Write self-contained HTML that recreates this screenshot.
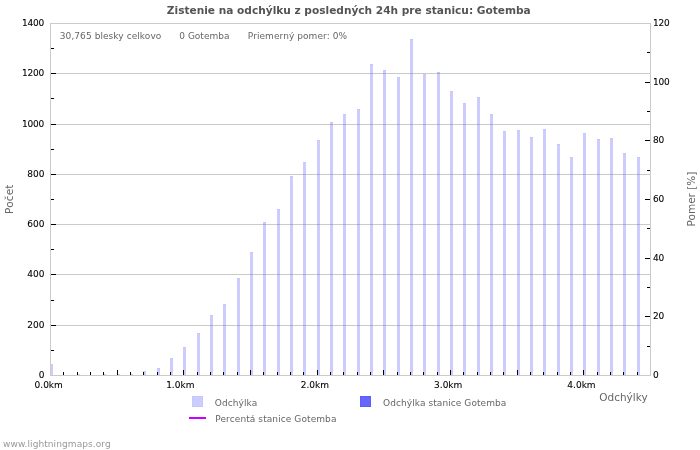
<!DOCTYPE html>
<html lang="sk"><head><meta charset="utf-8"><title>Zistenie na odchýlku – Gotemba</title>
<style>
html,body{margin:0;padding:0;background:#fff;}
body{width:700px;height:450px;overflow:hidden;position:relative;}
svg{position:absolute;left:0;top:0;display:block;will-change:transform;}
text{font-family:"DejaVu Sans","Liberation Sans",sans-serif;font-size:9px;fill:#000;white-space:pre;}
.t{font-weight:bold;font-size:10.6px;fill:#545454;}
.k{stroke:#000;stroke-width:0.08px;}
.g{fill:#666;}
.ax{font-size:10.5px;fill:#666;}
.f{fill:#999;}
</style></head><body>
<svg width="700" height="450" viewBox="0 0 700 450">
<rect width="700" height="450" fill="#fff"/>
<g fill="#cacaca" shape-rendering="crispEdges">
<rect x="51" y="325" width="599" height="1"/>
<rect x="51" y="274" width="599" height="1"/>
<rect x="51" y="224" width="599" height="1"/>
<rect x="51" y="174" width="599" height="1"/>
<rect x="51" y="124" width="599" height="1"/>
<rect x="51" y="73" width="599" height="1"/>
</g>
<g fill="#6666ff" fill-opacity="0.335" shape-rendering="crispEdges">
<rect x="51" y="364" width="2" height="11"/>
<rect x="77" y="374" width="3" height="1"/>
<rect x="103" y="374" width="3" height="1"/>
<rect x="117" y="374" width="3" height="1"/>
<rect x="130" y="374" width="3" height="1"/>
<rect x="143" y="371" width="3" height="4"/>
<rect x="157" y="368" width="3" height="7"/>
<rect x="170" y="358" width="3" height="17"/>
<rect x="183" y="347" width="3" height="28"/>
<rect x="197" y="333" width="3" height="42"/>
<rect x="210" y="315" width="3" height="60"/>
<rect x="223" y="304" width="3" height="71"/>
<rect x="237" y="278" width="3" height="97"/>
<rect x="250" y="252" width="3" height="123"/>
<rect x="263" y="222" width="3" height="153"/>
<rect x="277" y="209" width="3" height="166"/>
<rect x="290" y="176" width="3" height="199"/>
<rect x="303" y="162" width="3" height="213"/>
<rect x="317" y="140" width="3" height="235"/>
<rect x="330" y="122" width="3" height="253"/>
<rect x="343" y="114" width="3" height="261"/>
<rect x="357" y="109" width="3" height="266"/>
<rect x="370" y="64" width="3" height="311"/>
<rect x="383" y="70" width="3" height="305"/>
<rect x="397" y="77" width="3" height="298"/>
<rect x="410" y="39" width="3" height="336"/>
<rect x="423" y="74" width="3" height="301"/>
<rect x="437" y="72" width="3" height="303"/>
<rect x="450" y="91" width="3" height="284"/>
<rect x="463" y="103" width="3" height="272"/>
<rect x="477" y="97" width="3" height="278"/>
<rect x="490" y="114" width="3" height="261"/>
<rect x="503" y="131" width="3" height="244"/>
<rect x="517" y="130" width="3" height="245"/>
<rect x="530" y="137" width="3" height="238"/>
<rect x="543" y="129" width="3" height="246"/>
<rect x="557" y="144" width="3" height="231"/>
<rect x="570" y="157" width="3" height="218"/>
<rect x="583" y="133" width="3" height="242"/>
<rect x="597" y="139" width="3" height="236"/>
<rect x="610" y="138" width="3" height="237"/>
<rect x="623" y="153" width="3" height="222"/>
<rect x="637" y="157" width="3" height="218"/>
</g>
<g fill="#6666ff" fill-opacity="0.06" shape-rendering="crispEdges">
<rect x="51" y="364" width="2" height="1"/>
<rect x="143" y="371" width="3" height="1"/>
<rect x="157" y="368" width="3" height="1"/>
<rect x="170" y="358" width="3" height="1"/>
<rect x="183" y="347" width="3" height="1"/>
<rect x="197" y="333" width="3" height="1"/>
<rect x="210" y="315" width="3" height="1"/>
<rect x="223" y="304" width="3" height="1"/>
<rect x="237" y="278" width="3" height="1"/>
<rect x="250" y="252" width="3" height="1"/>
<rect x="263" y="222" width="3" height="1"/>
<rect x="277" y="209" width="3" height="1"/>
<rect x="290" y="176" width="3" height="1"/>
<rect x="303" y="162" width="3" height="1"/>
<rect x="317" y="140" width="3" height="1"/>
<rect x="330" y="122" width="3" height="1"/>
<rect x="343" y="114" width="3" height="1"/>
<rect x="357" y="109" width="3" height="1"/>
<rect x="370" y="64" width="3" height="1"/>
<rect x="383" y="70" width="3" height="1"/>
<rect x="397" y="77" width="3" height="1"/>
<rect x="410" y="39" width="3" height="1"/>
<rect x="423" y="74" width="3" height="1"/>
<rect x="437" y="72" width="3" height="1"/>
<rect x="450" y="91" width="3" height="1"/>
<rect x="463" y="103" width="3" height="1"/>
<rect x="477" y="97" width="3" height="1"/>
<rect x="490" y="114" width="3" height="1"/>
<rect x="503" y="131" width="3" height="1"/>
<rect x="517" y="130" width="3" height="1"/>
<rect x="530" y="137" width="3" height="1"/>
<rect x="543" y="129" width="3" height="1"/>
<rect x="557" y="144" width="3" height="1"/>
<rect x="570" y="157" width="3" height="1"/>
<rect x="583" y="133" width="3" height="1"/>
<rect x="597" y="139" width="3" height="1"/>
<rect x="610" y="138" width="3" height="1"/>
<rect x="623" y="153" width="3" height="1"/>
<rect x="637" y="157" width="3" height="1"/>
</g>
<g fill="#cacaca" shape-rendering="crispEdges">
<rect x="50" y="23" width="601" height="1"/>
<rect x="50" y="375" width="601" height="1"/>
<rect x="50" y="23" width="1" height="353"/>
<rect x="650" y="23" width="1" height="353"/>
</g>
<g fill="#000" shape-rendering="crispEdges">
<rect x="51" y="350" width="3" height="1"/>
<rect x="51" y="325" width="5" height="1"/>
<rect x="51" y="300" width="3" height="1"/>
<rect x="51" y="274" width="5" height="1"/>
<rect x="51" y="249" width="3" height="1"/>
<rect x="51" y="224" width="5" height="1"/>
<rect x="51" y="199" width="3" height="1"/>
<rect x="51" y="174" width="5" height="1"/>
<rect x="51" y="149" width="3" height="1"/>
<rect x="51" y="124" width="5" height="1"/>
<rect x="51" y="98" width="3" height="1"/>
<rect x="51" y="73" width="5" height="1"/>
<rect x="51" y="48" width="3" height="1"/>
<rect x="647" y="346" width="3" height="1"/>
<rect x="645" y="316" width="5" height="1"/>
<rect x="647" y="287" width="3" height="1"/>
<rect x="645" y="258" width="5" height="1"/>
<rect x="647" y="228" width="3" height="1"/>
<rect x="645" y="199" width="5" height="1"/>
<rect x="647" y="170" width="3" height="1"/>
<rect x="645" y="140" width="5" height="1"/>
<rect x="647" y="111" width="3" height="1"/>
<rect x="645" y="82" width="5" height="1"/>
<rect x="647" y="52" width="3" height="1"/>
<rect x="63" y="372" width="1" height="3"/>
<rect x="77" y="372" width="1" height="3"/>
<rect x="90" y="372" width="1" height="3"/>
<rect x="103" y="372" width="1" height="3"/>
<rect x="117" y="370" width="1" height="5"/>
<rect x="130" y="372" width="1" height="3"/>
<rect x="143" y="372" width="1" height="3"/>
<rect x="157" y="372" width="1" height="3"/>
<rect x="170" y="372" width="1" height="3"/>
<rect x="183" y="370" width="1" height="5"/>
<rect x="197" y="372" width="1" height="3"/>
<rect x="210" y="372" width="1" height="3"/>
<rect x="223" y="372" width="1" height="3"/>
<rect x="237" y="372" width="1" height="3"/>
<rect x="250" y="370" width="1" height="5"/>
<rect x="263" y="372" width="1" height="3"/>
<rect x="277" y="372" width="1" height="3"/>
<rect x="290" y="372" width="1" height="3"/>
<rect x="303" y="372" width="1" height="3"/>
<rect x="317" y="370" width="1" height="5"/>
<rect x="330" y="372" width="1" height="3"/>
<rect x="343" y="372" width="1" height="3"/>
<rect x="357" y="372" width="1" height="3"/>
<rect x="370" y="372" width="1" height="3"/>
<rect x="383" y="370" width="1" height="5"/>
<rect x="397" y="372" width="1" height="3"/>
<rect x="410" y="372" width="1" height="3"/>
<rect x="423" y="372" width="1" height="3"/>
<rect x="437" y="372" width="1" height="3"/>
<rect x="450" y="370" width="1" height="5"/>
<rect x="463" y="372" width="1" height="3"/>
<rect x="477" y="372" width="1" height="3"/>
<rect x="490" y="372" width="1" height="3"/>
<rect x="503" y="372" width="1" height="3"/>
<rect x="517" y="370" width="1" height="5"/>
<rect x="530" y="372" width="1" height="3"/>
<rect x="543" y="372" width="1" height="3"/>
<rect x="557" y="372" width="1" height="3"/>
<rect x="570" y="372" width="1" height="3"/>
<rect x="583" y="370" width="1" height="5"/>
<rect x="597" y="372" width="1" height="3"/>
<rect x="610" y="372" width="1" height="3"/>
<rect x="623" y="372" width="1" height="3"/>
<rect x="637" y="372" width="1" height="3"/>
</g>
<text class="t" transform="translate(348.8,14) scale(1,1.04)" text-anchor="middle">Zistenie na odchýlku z posledných 24h pre stanicu: Gotemba</text>
<text class="g" x="59.8" y="39" letter-spacing="0.07">30,765 blesky celkovo</text>
<text class="g" x="179.3" y="39">0 Gotemba</text>
<text class="g" x="247.8" y="39" letter-spacing="0.07">Priemerný pomer: 0%</text>
<text class="k" x="44.5" y="378" text-anchor="end">0</text>
<text class="k" x="44.5" y="328" text-anchor="end">200</text>
<text class="k" x="44.5" y="277" text-anchor="end">400</text>
<text class="k" x="44.5" y="227" text-anchor="end">600</text>
<text class="k" x="44.5" y="177" text-anchor="end">800</text>
<text class="k" x="44.0" y="127" text-anchor="end" letter-spacing="-0.2">1000</text>
<text class="k" x="44.0" y="76" text-anchor="end" letter-spacing="-0.2">1200</text>
<text class="k" x="44.0" y="26" text-anchor="end" letter-spacing="-0.2">1400</text>
<text class="k" x="653.1" y="378" letter-spacing="-0.3">0</text>
<text class="k" x="653.1" y="319" letter-spacing="-0.3">20</text>
<text class="k" x="653.1" y="261" letter-spacing="-0.3">40</text>
<text class="k" x="653.1" y="202" letter-spacing="-0.3">60</text>
<text class="k" x="653.1" y="143" letter-spacing="-0.3">80</text>
<text class="k" x="653.1" y="85" letter-spacing="-0.3">100</text>
<text class="k" x="653.1" y="26" letter-spacing="-0.3">120</text>
<text class="k" x="48.7" y="388" text-anchor="middle">0.0km</text>
<text class="k" x="180.3" y="388" text-anchor="middle">1.0km</text>
<text class="k" x="314.9" y="388" text-anchor="middle">2.0km</text>
<text class="k" x="448.2" y="388" text-anchor="middle">3.0km</text>
<text class="k" x="581.5" y="388" text-anchor="middle">4.0km</text>
<text class="ax" transform="translate(13.2,214) rotate(-90) scale(1,1.04)" letter-spacing="0.18">Počet</text>
<text class="ax" transform="translate(695.1,199) rotate(-90) scale(1,1.04)" text-anchor="middle">Pomer [%]</text>
<text class="ax" transform="translate(647.6,401) scale(1,1.04)" text-anchor="end">Odchýlky</text>
<rect x="192" y="396" width="11" height="11" fill="#6666ff" fill-opacity="0.335" shape-rendering="crispEdges"/>
<g fill="#6666ff" fill-opacity="0.045" shape-rendering="crispEdges"><rect x="192" y="396" width="11" height="1"/><rect x="192" y="406" width="11" height="1"/><rect x="192" y="396" width="1" height="11"/><rect x="202" y="396" width="1" height="11"/></g>
<text class="g" x="214.8" y="406" letter-spacing="0.09">Odchýlka</text>
<rect x="360" y="396" width="11" height="11" fill="#6666ff" shape-rendering="crispEdges"/>
<g fill="#3030e0" fill-opacity="0.14" shape-rendering="crispEdges"><rect x="360" y="396" width="11" height="1"/><rect x="360" y="406" width="11" height="1"/><rect x="360" y="396" width="1" height="11"/><rect x="370" y="396" width="1" height="11"/></g>
<text class="g" x="383" y="406" letter-spacing="0.08">Odchýlka stanice Gotemba</text>
<rect x="189" y="417" width="17" height="2" fill="#c800ff" shape-rendering="crispEdges"/>
<text class="g" x="215.3" y="422" letter-spacing="0.09">Percentá stanice Gotemba</text>
<text class="f" x="3" y="447" letter-spacing="0.085">www.lightningmaps.org</text>
</svg>
</body></html>
